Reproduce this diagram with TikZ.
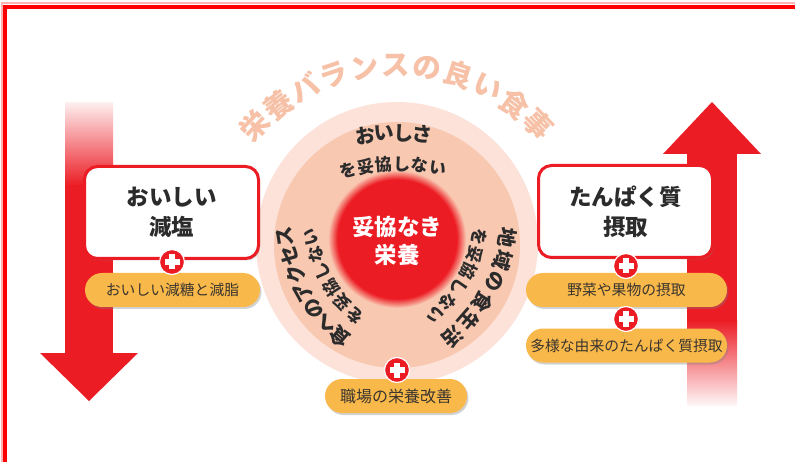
\documentclass[tikz,border=0pt]{standalone}
\usepackage{fontspec}
\setmainfont{Noto Sans CJK JP}
\usetikzlibrary{shadows,calc}
\definecolor{cred}{HTML}{EC1C24}
\definecolor{framec}{HTML}{FF0000}
\definecolor{outerc}{HTML}{FCE2D9}
\definecolor{innerc}{HTML}{F9C8B1}
\definecolor{titlec}{HTML}{F7C1A7}
\definecolor{pillc}{HTML}{F9B84A}
\definecolor{txt}{HTML}{2B2B2B}
\definecolor{pilltxt}{HTML}{3A352F}
\pgfdeclareradialshading{glow}{\pgfpointorigin}{color(0bp)=(cred); color(21.6bp)=(cred); color(25bp)=(innerc); color(50bp)=(innerc)}
% #1 cx, #2 cy, #3 R, #4 start angle, #5 step, #6 font, #7 list, #8 name prefix
\newcommand\arctext[8]{%
  \foreach \ch [count=\i from 0] in {#7} {%
    \pgfmathsetmacro\ang{#4+\i*(#5)}%
    \node[inner sep=0pt, rotate=\ang-90, font=#6] (#8-\i) at ({#1+#3*cos(\ang)},{#2-#3*sin(\ang)}) {\ch};
  }}
\tikzset{
  mainbox/.style={draw=cred, line width=3pt, fill=white, rounded corners=13pt,
    minimum width=174pt, minimum height=92pt, align=center, text=txt,
    font=\fontsize{22.5}{30}\selectfont\bfseries,
    drop shadow={opacity=0.35, shadow xshift=1.5pt, shadow yshift=-2pt}},
  pill/.style={fill=pillc, rounded corners=17pt, minimum height=34pt, text=pilltxt,
    font=\fontsize{14.8}{16}\selectfont,
    drop shadow={opacity=0.35, shadow xshift=1.5pt, shadow yshift=-2pt}},
  plusicon/.style={circle, fill=cred, draw=white, line width=1.2pt, minimum size=25pt, inner sep=0pt,
    path picture={
      \fill[white] ([xshift=-7.5pt,yshift=-2.6pt]path picture bounding box.center) rectangle ([xshift=7.5pt,yshift=2.6pt]path picture bounding box.center);
      \fill[white] ([xshift=-2.6pt,yshift=-7.5pt]path picture bounding box.center) rectangle ([xshift=2.6pt,yshift=7.5pt]path picture bounding box.center);}}
}
\begin{document}
\begin{tikzpicture}[x=1pt,y=-1pt]
\useasboundingbox (0,0) rectangle (795,462);
\fill[white] (0,0) rectangle (795,462);
% frame
\draw[framec!30, line width=2pt] (1.5,470) -- (1.5,3.5) -- (800,3.5);
\draw[framec, line width=4pt] (5,470) -- (5,7) -- (800,7);
% left arrow (down)
\shade[top color=cred!8, bottom color=cred] (65,103) rectangle (113,186);
\fill[cred] (65,185) rectangle (113,354);
\fill[cred] (40,353) -- (138,353) -- (89,401) -- cycle;
% right arrow (up)
\fill[cred] (663,154) -- (712,102) -- (761,154) -- cycle;
\fill[cred] (687,153) rectangle (737,321);
\shade[top color=cred, bottom color=cred!4] (687,320) rectangle (737,405);
% circles
\fill[outerc] (397,243) circle (141);
\fill[innerc] (397,245) circle (123);
\shade[shading=glow] (397,239) circle (69);
% title on arc
\arctext{397}{262}{197}{136.4}{-9.22}{\fontsize{28.5}{28}\selectfont\bfseries\color{titlec}}{栄,養,バ,ラ,ン,ス,の,良,い,食,事}{ttl}
% inner arc texts
\arctext{397}{367}{234}{97.8}{-4.7}{\fontsize{20}{20}\selectfont\bfseries\color{txt}}{お,い,し,さ}{ta}
\arctext{397}{369}{205}{103.8}{-5.06}{\fontsize{17}{17}\selectfont\bfseries\color{txt}}{を,妥,協,し,な,い}{tb}
\arctext{450}{211}{167}{229}{-6.67}{\fontsize{20}{20}\selectfont\bfseries\color{txt}}{食,へ,の,ア,ク,セ,ス}{la}
\arctext{450}{211}{141}{227.6}{-7.38}{\fontsize{17}{17}\selectfont\bfseries\color{txt}}{を,妥,協,し,な,い}{lb}
\arctext{344}{211}{166}{-9.4}{-7.94}{\fontsize{20}{20}\selectfont\bfseries\color{txt}}{地,域,の,食,生,活}{ra}
\arctext{344}{211}{138}{-10.7}{-7.64}{\fontsize{17}{17}\selectfont\bfseries\color{txt}}{を,妥,協,し,な,い}{rb}
% core
\node[text=white, align=center, font=\fontsize{22.5}{28}\selectfont\bfseries] (core) at (397,241) {妥協なき\\栄養};
% left side
\node[mainbox] (salt) at (171.5,212.5) {おいしい\\減塩};
\node[pill, minimum width=175pt] (sugar) at (172.5,290) {おいしい減糖と減脂};
\node[plusicon] (pl1) at (172,262) {};
% right side
\node[mainbox] (prot) at (625.5,211.5) {たんぱく質\\摂取};
\node[pill, minimum width=201pt] (veg) at (626.5,290) {野菜や果物の摂取};
\node[pill, minimum width=201pt] (div) at (626.5,345.5) {多様な由来のたんぱく質摂取};
\node[plusicon] (pr1) at (626,266) {};
\node[plusicon] (pr2) at (626,319) {};
% bottom
\node[pill, minimum width=142pt, font=\fontsize{16}{18}\selectfont] (work) at (396,396) {職場の栄養改善};
\node[plusicon] (pb) at (397,370) {};
\end{tikzpicture}
\end{document}
